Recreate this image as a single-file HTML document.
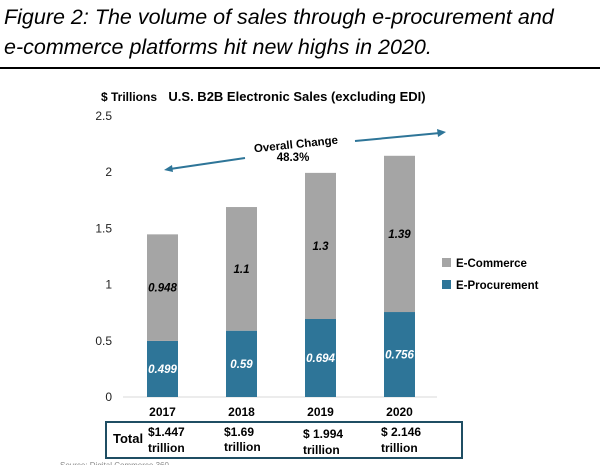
<!DOCTYPE html>
<html><head><meta charset="utf-8"><style>
body{margin:0;width:600px;height:465px;background:#fff;overflow:hidden;font-family:"Liberation Sans",sans-serif}
.hdr{position:absolute;left:4px;top:0;font-style:italic;font-size:21.5px;line-height:30px;color:#000;font-family:"Liberation Sans",sans-serif}
</style></head><body>
<div class="hdr" style="top:2px">Figure 2: The volume of sales through e-procurement and<br>e-commerce platforms hit new highs in 2020.</div>
<div style="position:absolute;left:0;top:67px;width:600px;height:2px;background:#000"></div>
<svg id="chart" width="600" height="465" style="position:absolute;left:0;top:0"></svg>
<script>
const years=["2017","2018","2019","2020"];
const eproc=[0.499,0.59,0.694,0.756];
const ecom=[0.948,1.1,1.3,1.39];
const ecomLabels=["0.948","1.1","1.3","1.39"];
const eprocLabels=["0.499","0.59","0.694","0.756"];
const totals=["$1.447","$1.69","$ 1.994","$ 2.146"];
const yTicks=[0,0.5,1,1.5,2,2.5];
const yTickLabels=["0","0.5","1","1.5","2","2.5"];
const NS="http://www.w3.org/2000/svg";
const svg=document.getElementById('chart');
const y=v=>397-v*112.4;
const xc=i=>162.5+i*79;
function mk(t,a,txt){const e=document.createElementNS(NS,t);for(const k in a)e.setAttribute(k,a[k]);if(txt!=null)e.textContent=txt;svg.appendChild(e);return e;}
let e;
e=mk('text',{x:101,y:101,'font-size':12,'font-weight':'bold'},'$ Trillions');

e=mk('text',{x:297,y:101,'font-size':13,'font-weight':'bold','text-anchor':'middle'},'U.S. B2B Electronic Sales (excluding EDI)');

e=mk('line',{x1:123,x2:437,y1:397,y2:397,stroke:'#d9d9d9','stroke-width':1});

yTicks.forEach((t,i)=>{e=mk('text',{x:112,y:y(t)+4,'font-size':12,'text-anchor':'end',fill:'#222'},yTickLabels[i]);
});
years.forEach((yr,i)=>{
 const x=xc(i)-15.5,w=31;
 e=mk('rect',{x:x,y:y(eproc[i]),width:w,height:y(0)-y(eproc[i]),fill:'#2e7598'});
 
 e=mk('rect',{x:x,y:y(eproc[i]+ecom[i]),width:w,height:y(eproc[i])-y(eproc[i]+ecom[i]),fill:'#a5a5a5'});
 
 e=mk('text',{x:xc(i),y:(y(eproc[i])+y(eproc[i]+ecom[i]))/2+4,'font-size':11.5,'font-weight':'bold','font-style':'italic','text-anchor':'middle'},ecomLabels[i]);
 
 e=mk('text',{x:xc(i),y:(y(0)+y(eproc[i]))/2+4,'font-size':11.5,'font-weight':'bold','font-style':'italic','text-anchor':'middle',fill:'#fff'},eprocLabels[i]);
 
 e=mk('text',{x:xc(i),y:416,'font-size':12,'font-weight':'bold','text-anchor':'middle'},yr);
 
 const tx=[148,224,303,381][i];
 e=mk('text',{x:tx,y:[436,436,438,436][i],'font-size':12,'font-weight':'bold'},totals[i]);
 
 e=mk('text',{x:tx,y:[452,451,454,452][i],'font-size':12,'font-weight':'bold'},'trillion');
 
});
e=mk('rect',{x:106,y:422,width:356,height:36,fill:'none',stroke:'#1f4e63','stroke-width':2});

e=mk('text',{x:113,y:443,'font-size':13,'font-weight':'bold'},'Total');

// legend
e=mk('rect',{x:442,y:258,width:9,height:9,fill:'#a5a5a5'});
e=mk('text',{x:456,y:267,'font-size':11.5,'font-weight':'bold'},'E-Commerce');
e=mk('rect',{x:442,y:280,width:9,height:9,fill:'#2e7598'});
e=mk('text',{x:456,y:289,'font-size':11.5,'font-weight':'bold'},'E-Procurement');
// arrows
e=mk('g',{});
const g=e;
g.innerHTML='<line x1="245" y1="158" x2="170" y2="169" stroke="#2e7598" stroke-width="2"/><polygon points="164,170 172,165 173,172" fill="#2e7598"/>'+
'<line x1="355" y1="141" x2="440" y2="133" stroke="#2e7598" stroke-width="2"/><polygon points="446,132 437,129 438,137" fill="#2e7598"/>'+
'<text x="296" y="148" font-size="11.5" font-weight="bold" text-anchor="middle" transform="rotate(-6 296 145)">Overall Change</text>'+
'<text x="293" y="161" font-size="11.5" font-weight="bold" text-anchor="middle">48.3%</text>';
e=mk('text',{x:60,y:468,'font-size':8,fill:'#888'},'Source: Digital Commerce 360');

</script>
</body></html>
